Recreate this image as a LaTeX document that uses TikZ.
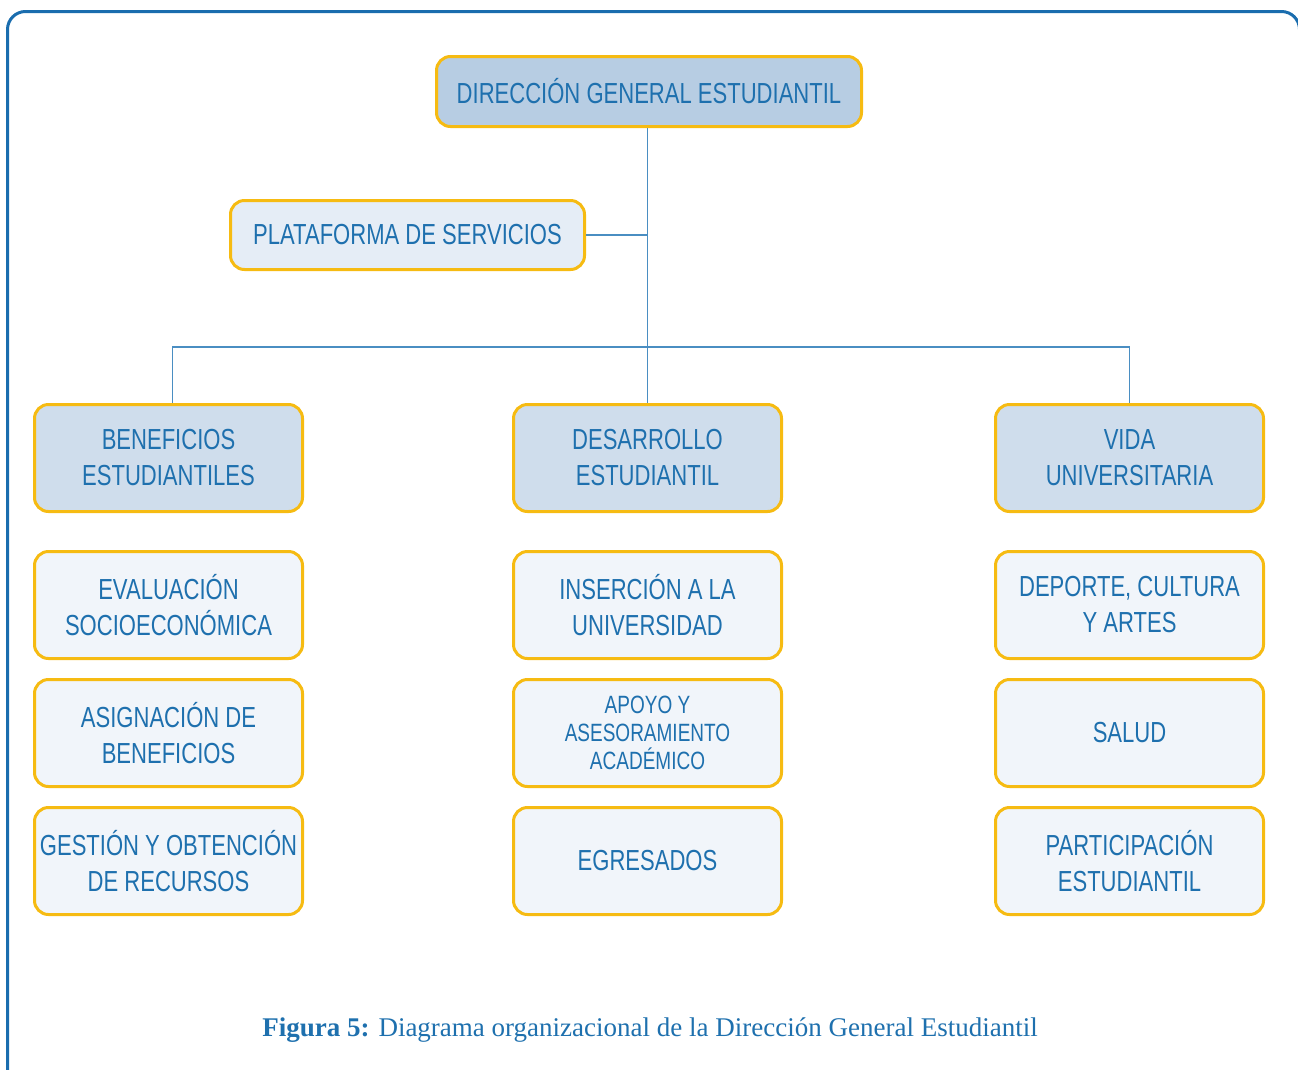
\documentclass[tikz,border=0pt]{standalone}
\usepackage{fontspec}
\setmainfont{Liberation Serif}
\newfontfamily\boxfont[FakeStretch=0.76]{Liberation Sans}
\usetikzlibrary{positioning}

\definecolor{textblue}{HTML}{1E70AE}
\definecolor{linkblue}{HTML}{4A8EC2}
\definecolor{frameblue}{HTML}{1A6DAE}
\definecolor{boxgold}{HTML}{F6BB12}
\definecolor{fillA}{HTML}{B7CDE3}
\definecolor{fillB}{HTML}{CFDDEC}
\definecolor{fillC}{HTML}{E5EDF6}
\definecolor{fillD}{HTML}{F1F5FA}

\tikzset{
  unit/.style={draw=boxgold, line width=3pt, rounded corners=14pt, align=center,
    text=textblue, font=\boxfont\fontsize{29}{36}\selectfont, inner sep=0pt},
  head/.style={unit, fill=fillB, minimum width=268pt, minimum height=107pt},
  item/.style={unit, fill=fillD, minimum width=268pt, minimum height=107pt},
  link/.style={draw=linkblue, line width=1.3pt},
}

\begin{document}
\begin{tikzpicture}[x=1pt,y=-1pt]

  \useasboundingbox (0,0) rectangle (1298,1069);
  \draw[frameblue, line width=3pt, rounded corners=18pt] (7.5,11.5) rectangle (1299.5,1100);

  \node[unit, fill=fillA, minimum width=425pt, minimum height=70pt] (d0) at (649,91.5) {DIRECCIÓN GENERAL ESTUDIANTIL};
  \node[unit, fill=fillC, minimum width=354pt, minimum height=69pt] (d1) at (407.5,235) {PLATAFORMA DE SERVICIOS};

  \node[head] (b0) at (647.5,458) {DESARROLLO\\ESTUDIANTIL};
  \node[head] (a0) [left=208pt of b0] {BENEFICIOS\\ESTUDIANTILES};
  \node[head] (c0) [right=211pt of b0] {VIDA\\UNIVERSITARIA};

  \node[item] (a1) [below=37pt of a0] {EVALUACIÓN\\SOCIOECONÓMICA};
  \node[item] (a2) [below=18pt of a1] {ASIGNACIÓN DE\\BENEFICIOS};
  \node[item] (a3) [below=18pt of a2] {GESTIÓN Y OBTENCIÓN\\DE RECURSOS};

  \node[item] (b1) [below=37pt of b0] {INSERCIÓN A LA\\UNIVERSIDAD};
  \node[item, font=\boxfont\fontsize{25}{28}\selectfont] (b2) [below=18pt of b1] {APOYO Y\\ASESORAMIENTO\\ACADÉMICO};
  \node[item] (b3) [below=18pt of b2] {EGRESADOS};

  \node[item] (c1) [below=37pt of c0] {DEPORTE, CULTURA\\Y ARTES};
  \node[item] (c2) [below=18pt of c1] {SALUD};
  \node[item] (c3) [below=18pt of c2] {PARTICIPACIÓN\\ESTUDIANTIL};

  \draw[link] (d0.south -| b0.north) -- (b0.north);
  \draw[link] (d1.east) -- (d1.east -| b0.north);
  \draw[link] ([xshift=4pt]a0.north) -- ++(0,-56) -| (c0.north);

  \node[text=textblue, font=\fontsize{27}{30}\selectfont] (cap) at (650,1030) {\textbf{Figura 5:} Diagrama organizacional de la Dirección General Estudiantil};

\end{tikzpicture}
\end{document}
